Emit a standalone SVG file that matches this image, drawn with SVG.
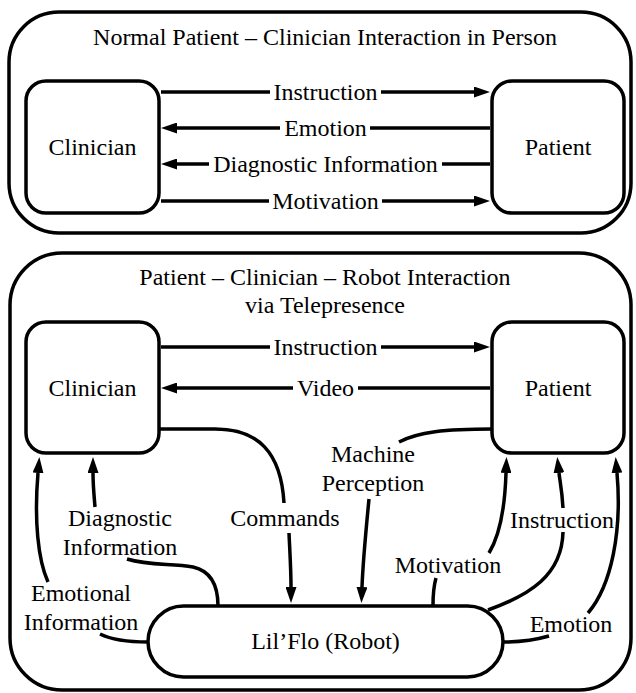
<svg xmlns="http://www.w3.org/2000/svg" width="636" height="693" viewBox="0 0 636 693">
<style>
.frame{fill:none;stroke:#000;stroke-width:3.5}
.box{fill:#fff;stroke:#000;stroke-width:3.5}
.c{fill:none;stroke:#000;stroke-width:3.5}
.a{fill:none;stroke:#000;stroke-width:3.5;marker-end:url(#ah)}
</style>
<defs>
<marker id="ah" viewBox="0 0 16 11" refX="0" refY="5.5" markerWidth="16" markerHeight="11" markerUnits="userSpaceOnUse" orient="auto">
<path d="M0,0 L16,5.5 L0,11 z" fill="#000"/>
</marker>
</defs>
<g id="frame-top">
<rect class="frame" x="9" y="12" width="622" height="221" rx="50"/>
<text x="325" y="45" font-family="Times New Roman" font-size="24" text-anchor="middle" style="font-family:'Liberation Serif'">Normal Patient – Clinician Interaction in Person</text>
</g>
<g id="frame-bottom">
<rect class="frame" x="10" y="253" width="621" height="437" rx="52"/>
<text x="325" y="285" font-family="Times New Roman" font-size="24" text-anchor="middle" style="font-family:'Liberation Serif'">Patient – Clinician – Robot Interaction</text>
<text x="325" y="313" font-family="Times New Roman" font-size="24" text-anchor="middle" style="font-family:'Liberation Serif'">via Telepresence</text>
</g>
<g id="clinician-1">
<rect class="box" x="26" y="81" width="133" height="132" rx="20"/>
<text x="92.5" y="155" font-family="Times New Roman" font-size="24" text-anchor="middle" style="font-family:'Liberation Serif'">Clinician</text>
</g>
<g id="patient-1">
<rect class="box" x="492" y="81" width="132" height="132" rx="20"/>
<text x="558" y="155" font-family="Times New Roman" font-size="24" text-anchor="middle" style="font-family:'Liberation Serif'">Patient</text>
</g>
<g id="clinician-2">
<rect class="box" x="26" y="322" width="133" height="131" rx="20"/>
<text x="92.5" y="396" font-family="Times New Roman" font-size="24" text-anchor="middle" style="font-family:'Liberation Serif'">Clinician</text>
</g>
<g id="patient-2">
<rect class="box" x="492" y="322" width="132" height="131" rx="20"/>
<text x="558" y="396" font-family="Times New Roman" font-size="24" text-anchor="middle" style="font-family:'Liberation Serif'">Patient</text>
</g>
<g id="robot">
<rect class="box" x="148" y="606" width="355" height="71" rx="35.5"/>
<text x="325.5" y="649" font-family="Times New Roman" font-size="24" text-anchor="middle" style="font-family:'Liberation Serif'">Lil’Flo (Robot)</text>
</g>
<g id="connectors">
<path class="c" d="M161,92 H270"/>
<path class="a" d="M381,92 H474"/>
<path class="c" d="M490,128 H370"/>
<path class="a" d="M280,128 H177"/>
<path class="c" d="M490,164 H442"/>
<path class="a" d="M209,164 H177"/>
<path class="c" d="M161,201 H269"/>
<path class="a" d="M382,201 H474"/>
<path class="c" d="M161,347 H270"/>
<path class="a" d="M381,347 H474"/>
<path class="c" d="M490,388 H358"/>
<path class="a" d="M293,388 H177"/>
<path class="c" d="M159,429 H215 C258,429 281,452 284,503"/>
<path class="a" d="M289,533 C290,555 291,570 291,587"/>
<path class="c" d="M492,429 C445,429 418,432 399,442"/>
<path class="a" d="M369,499 C366,530 363,560 362,587"/>
<path class="c" d="M127,559 C150,566 172,563 193,567 C211,571 218,585 218,606"/>
<path class="a" d="M95,507 C94,495 93,485 93,473"/>
<path class="c" d="M148,642 C128,642 112,640 100,634"/>
<path class="a" d="M48,582 C38,560 34,520 38,473"/>
<path class="c" d="M433,606 C433,595 434,585 436,578"/>
<path class="a" d="M489,553 C500,535 505,505 506,473"/>
<path class="c" d="M488,610 C530,595 562,575 563,532"/>
<path class="a" d="M563,508 C562,490 560,482 559,473"/>
<path class="c" d="M503,642 C520,642 535,640 549,636"/>
<path class="a" d="M588,613 C612,585 622,530 617,473"/>
</g>
<g id="labels">
<text x="325.5" y="100" font-family="Times New Roman" font-size="24" text-anchor="middle" style="font-family:'Liberation Serif'">Instruction</text>
<text x="325.5" y="136" font-family="Times New Roman" font-size="24" text-anchor="middle" style="font-family:'Liberation Serif'">Emotion</text>
<text x="325.5" y="172" font-family="Times New Roman" font-size="24" text-anchor="middle" style="font-family:'Liberation Serif'">Diagnostic Information</text>
<text x="325.5" y="209" font-family="Times New Roman" font-size="24" text-anchor="middle" style="font-family:'Liberation Serif'">Motivation</text>
<text x="325.5" y="355" font-family="Times New Roman" font-size="24" text-anchor="middle" style="font-family:'Liberation Serif'">Instruction</text>
<text x="325.5" y="396" font-family="Times New Roman" font-size="24" text-anchor="middle" style="font-family:'Liberation Serif'">Video</text>
<text x="285" y="526" font-family="Times New Roman" font-size="24" text-anchor="middle" style="font-family:'Liberation Serif'">Commands</text>
<text x="373" y="462" font-family="Times New Roman" font-size="24" text-anchor="middle" style="font-family:'Liberation Serif'">Machine</text>
<text x="373" y="491" font-family="Times New Roman" font-size="24" text-anchor="middle" style="font-family:'Liberation Serif'">Perception</text>
<text x="120" y="526" font-family="Times New Roman" font-size="24" text-anchor="middle" style="font-family:'Liberation Serif'">Diagnostic</text>
<text x="120" y="555" font-family="Times New Roman" font-size="24" text-anchor="middle" style="font-family:'Liberation Serif'">Information</text>
<text x="81" y="601" font-family="Times New Roman" font-size="24" text-anchor="middle" style="font-family:'Liberation Serif'">Emotional</text>
<text x="81" y="630" font-family="Times New Roman" font-size="24" text-anchor="middle" style="font-family:'Liberation Serif'">Information</text>
<text x="448" y="573" font-family="Times New Roman" font-size="24" text-anchor="middle" style="font-family:'Liberation Serif'">Motivation</text>
<text x="562" y="528" font-family="Times New Roman" font-size="24" text-anchor="middle" style="font-family:'Liberation Serif'">Instruction</text>
<text x="571" y="632" font-family="Times New Roman" font-size="24" text-anchor="middle" style="font-family:'Liberation Serif'">Emotion</text>
</g>
</svg>
